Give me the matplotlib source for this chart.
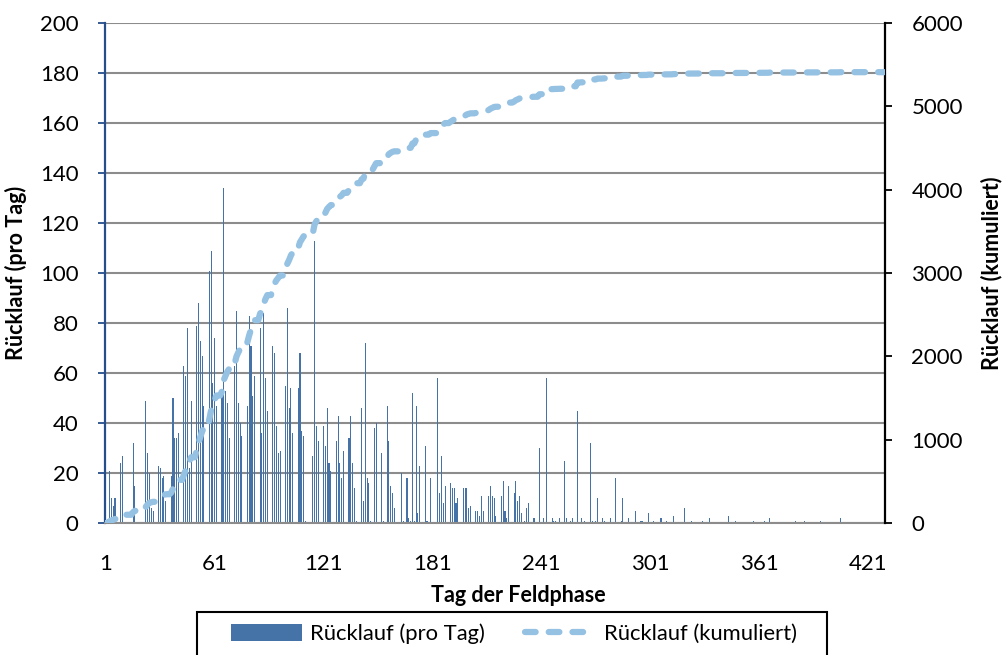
import numpy as np
import matplotlib
matplotlib.use("Agg")
import matplotlib.pyplot as plt
from matplotlib.patches import Rectangle
from matplotlib.lines import Line2D
from matplotlib.patches import Patch

plt.rcParams['font.family'] = ['Lato', 'DejaVu Sans']

# Tage der Feldphase mit Ruecklauf und Ruecklauf pro Tag
n_tage = 430
tage = [3, 4, 5, 6, 9, 10, 16, 17,
        23, 24, 25, 26, 27, 30, 31, 32, 33, 34,
        37, 38, 39, 40, 41, 44, 45, 46, 47, 48,
        51, 52, 53, 54, 55, 58, 59, 60, 61, 62,
        65, 66, 67, 68, 69, 72, 73, 74, 75, 76,
        79, 80, 81, 82, 83, 86, 87, 88, 89, 90,
        93, 94, 95, 96, 97, 100, 101, 102, 103, 104,
        107, 108, 109, 110, 111, 115, 116, 117, 118,
        121, 122, 123, 124, 125, 128, 129, 130, 131, 132,
        135, 136, 137, 138, 139, 142, 143, 144, 145, 146, 147,
        149, 150, 153, 154, 156, 157, 158, 159, 160,
        164, 165, 167, 168, 169, 170, 171, 172, 173, 174,
        177, 178, 180, 184, 185, 186, 187, 188,
        191, 192, 193, 194, 195, 198, 199, 200, 201, 202,
        205, 206, 207, 208, 209, 212, 213, 214, 215, 216,
        219, 220, 221, 222, 223, 226, 227, 228, 229, 230,
        232, 233, 234, 237, 240, 242, 244, 247, 248, 249, 251,
        254, 255, 257, 258, 261, 263, 265, 268, 269, 271, 272, 275,
        276, 279, 282, 285, 286, 289, 293, 296, 297, 300,
        303, 307, 310, 314, 320, 324, 330, 334, 344, 348,
        358, 364, 367, 381, 386, 395, 406]
pro_tag = [21, 10, 7, 10, 24, 27, 32, 15,
           49, 28, 20, 6, 5, 23, 22, 18, 19, 9,
           19, 50, 34, 34, 36, 63, 59, 78, 22, 49,
           79, 88, 73, 67, 47, 101, 109, 56, 74, 47,
           53, 134, 53, 48, 34, 63, 85, 48, 40, 35,
           47, 83, 71, 51, 59, 78, 36, 84, 58, 45,
           71, 68, 39, 28, 29, 55, 86, 46, 54, 36,
           54, 68, 37, 35, 1, 27, 113, 39, 33,
           39, 31, 46, 24, 21, 33, 43, 24, 18, 29,
           34, 43, 24, 14, 1, 46, 9, 72, 18, 16, 1,
           38, 40, 28, 1, 47, 33, 15, 12, 6,
           20, 1, 18, 2, 1, 52, 1, 47, 4, 23,
           31, 1, 18, 58, 12, 27, 8, 15,
           16, 14, 14, 8, 10, 14, 14, 14, 6, 7,
           5, 5, 3, 11, 5, 11, 15, 11, 10, 3,
           11, 17, 5, 2, 15, 12, 17, 9, 11, 4,
           1, 6, 8, 2, 30, 2, 58, 2, 1, 1, 2,
           25, 2, 1, 2, 45, 2, 1, 32, 1, 1, 10, 2,
           1, 2, 18, 1, 10, 2, 5, 1, 1, 4,
           1, 2, 1, 3, 6, 1, 1, 2, 3, 1,
           1, 1, 2, 1, 1, 1, 2]

x_ticks = [1, 61, 121, 181, 241, 301, 361, 421]

tag = np.arange(1, n_tage + 1)
daily = np.zeros(n_tage)
daily[np.array(tage) - 1] = pro_tag
kumuliert = np.cumsum(daily)

bar_color = '#4572A7'
line_color = '#95C1E2'

fig = plt.figure(figsize=(10.02, 6.55), dpi=100)
ax = fig.add_axes([105/1002, 1 - 523/655, 780/1002, 500/655])
ax2 = ax.twinx()

ax.bar(tag, daily, width=0.6, color=bar_color, linewidth=0, zorder=2)
ax2.plot(tag, kumuliert, color=line_color, lw=4.5, dashes=(1.7, 2.1),
         dash_capstyle='round', solid_capstyle='round', zorder=3)

ax.set_xlim(0.5, n_tage + 0.5)
ax.set_ylim(0, 200)
ax2.set_ylim(0, 6000)
ax.set_yticks(range(0, 201, 20))
ax2.set_yticks(range(0, 6001, 1000))
ax.set_xticks(x_ticks)
ax.set_xticklabels([str(t) for t in x_ticks])

ax.grid(axis='y', color='#8c8c8c', lw=1.5, zorder=0)
ax.set_axisbelow(True)

for a in (ax, ax2):
    a.spines['top'].set_visible(False)
ax.spines['left'].set_color('#254E8C')
ax.spines['left'].set_linewidth(1.6)
ax.spines['bottom'].set_color('#8c8c8c')
ax.spines['bottom'].set_linewidth(1.5)
ax.spines['right'].set_visible(False)
ax2.spines['left'].set_visible(False)
ax2.spines['bottom'].set_visible(False)
ax2.spines['right'].set_color('black')
ax2.spines['right'].set_linewidth(1.6)

ax.tick_params(axis='y', direction='out', length=5, width=1.3, color='#254E8C',
               labelsize=16, pad=14)
ax2.tick_params(axis='y', direction='out', length=5, width=1.3, color='black',
                labelsize=16, pad=14)
ax.tick_params(axis='x', length=0, labelsize=16, pad=22)

ax.set_ylabel('Rücklauf (pro Tag)', fontsize=15.5, fontweight='bold')
ax2.set_ylabel('Rücklauf (kumuliert)', fontsize=15.5, fontweight='bold', rotation=90)
ax.set_xlabel('Tag der Feldphase', fontsize=15.5, fontweight='bold')
ax.yaxis.set_label_coords(-0.1, 0.5)
ax2.yaxis.set_label_coords(1.123, 0.5)
ax.xaxis.set_label_coords(0.53, -0.123)

# Legendenrahmen (unten abgeschnitten wie im Original)
fig.patches.append(Rectangle((197/1002, -0.05), 630/1002, 0.05 + 1 - 612/655,
                             transform=fig.transFigure, fill=False,
                             edgecolor='black', lw=1.5))
handles = [Patch(facecolor=bar_color, edgecolor='none'),
           Line2D([0], [0], color=line_color, lw=4.5, dashes=(1.7, 2.1),
                  dash_capstyle='round')]
fig.legend(handles, ['Rücklauf (pro Tag)', 'Rücklauf (kumuliert)'],
           loc='center', bbox_to_anchor=(514/1002, 1 - 634/655), ncol=2,
           frameon=False, fontsize=15.8, handlelength=3.2, handleheight=0.8,
           handletextpad=0.4, columnspacing=1.8)

fig.savefig('out.png', dpi=100)
